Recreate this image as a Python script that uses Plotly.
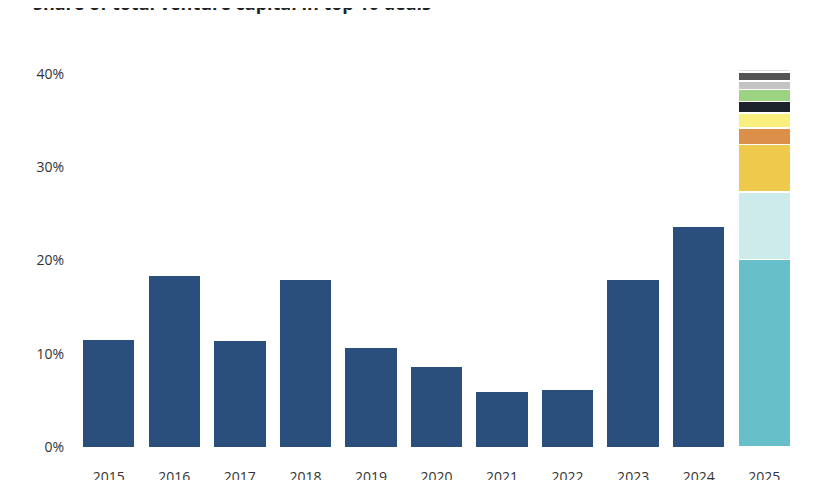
import plotly.graph_objects as go

years = ["2015", "2016", "2017", "2018", "2019", "2020", "2021", "2022", "2023", "2024", "2025"]
share_prior = [11.5, 18.4, 11.4, 17.9, 10.7, 8.6, 6.0, 6.2, 18.0, 23.6, None]

# 2025 broken down by deal (share of total VC, %)
deal_shares_2025 = [20.1, 7.2, 5.1, 1.8, 1.6, 1.2, 1.3, 0.9, 1.0, 0.3]
deal_colors = ["#67bfc9", "#cdebeb", "#efc94c", "#dc8f48", "#f8ef7e",
               "#1c2229", "#9cd383", "#c4c4c4", "#545454", "#dedede"]

y_ticks = [0, 10, 20, 30, 40]
y_tick_text = ["0%", "10%", "20%", "30%", "40%"]

fig = go.Figure()
fig.add_trace(go.Bar(
    x=years, y=share_prior,
    marker=dict(color="#2b4f7d", line=dict(color="white", width=1)),
    showlegend=False,
))
for v, c in zip(deal_shares_2025, deal_colors):
    fig.add_trace(go.Bar(
        x=["2025"], y=[v],
        marker=dict(color=c, line=dict(color="white", width=1.5)),
        showlegend=False,
    ))

fig.update_layout(
    barmode="stack",
    bargap=0.2,
    width=820, height=480,
    margin=dict(l=68, r=31, t=47, b=41, autoexpand=False),
    paper_bgcolor="white", plot_bgcolor="white",
    font=dict(family="Open Sans", size=14, color="#333333"),
    xaxis=dict(showgrid=False, showline=False, zeroline=False, automargin=False,
               ticks="outside", ticklen=17, tickcolor="rgba(0,0,0,0)",
               tickfont=dict(size=14, color="#333333")),
    yaxis=dict(range=[0, 42], tickvals=y_ticks, ticktext=y_tick_text,
               showgrid=False, zeroline=False, showline=False, automargin=False,
               ticks="outside", ticklen=8, tickcolor="rgba(0,0,0,0)",
               tickfont=dict(size=14, color="#333333")),
    annotations=[dict(
        text="<b>Share of total venture capital in top 10 deals</b>",
        xref="paper", yref="paper", x=-0.063, y=1.096,
        xanchor="left", yanchor="bottom", showarrow=False,
        font=dict(size=18, color="#222222"),
    )],
)

fig.write_html("out.html")
